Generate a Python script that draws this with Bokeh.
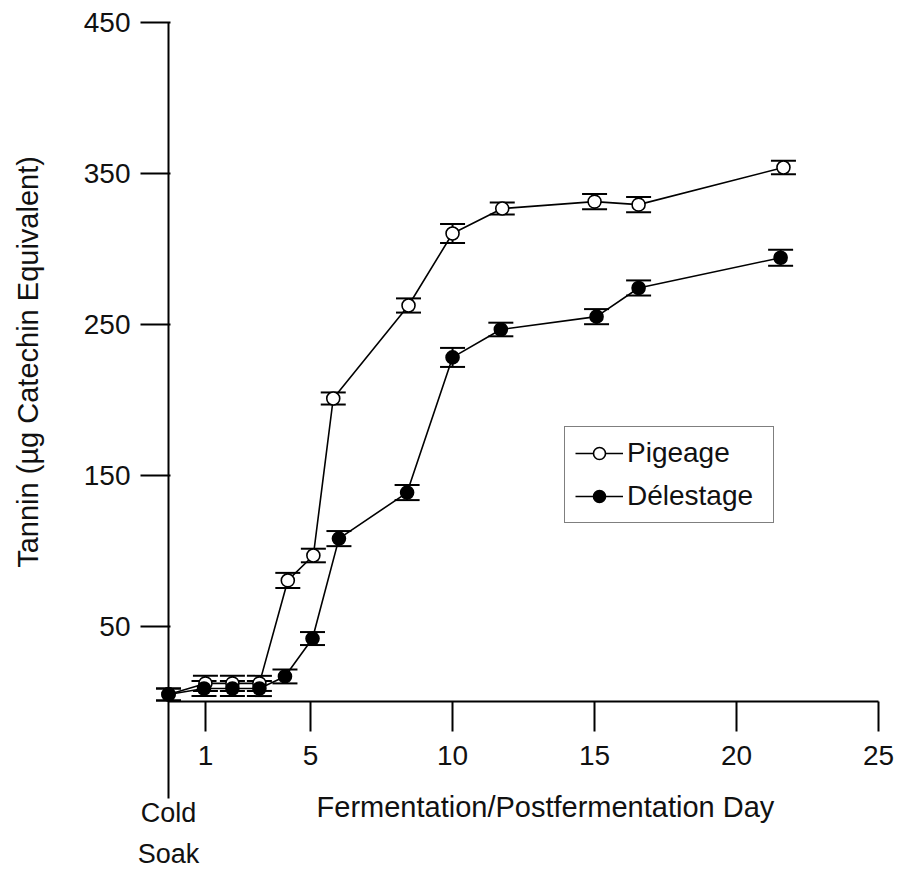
import math
from bokeh.plotting import figure
from bokeh.models import (ColumnDataSource, Whisker, TeeHead, FixedTicker, Label,
                          Legend, LegendItem)
from bokeh.embed import file_html
from bokeh.resources import INLINE

# ---- data ----
days_pigeage = [0, 1.3, 2.25, 3.2, 4.2, 5.1, 5.8, 8.45, 10.0, 11.75, 15.0, 16.55, 21.65]
tannin_pigeage = [4.8, 12.1, 12.1, 12.1, 80.3, 96.8, 200.8, 262.4, 310.1, 326.6, 331.2, 329.2, 353.8]
err_pigeage = [4, 5, 5, 5, 5, 4.5, 4, 4.7, 6.3, 4, 5, 5, 4.5]

days_delestage = [0, 1.25, 2.25, 3.2, 4.1, 5.07, 6.0, 8.4, 10.0, 11.7, 15.07, 16.55, 21.55]
tannin_delestage = [4.8, 8.7, 8.7, 8.7, 16.7, 41.8, 108.0, 138.5, 228.0, 246.5, 255.0, 274.0, 294.0]
err_delestage = [4, 5, 5, 5, 4.6, 4.3, 5, 5, 6.3, 4.5, 5, 5, 5.3]

x_tick_positions = [1.3, 5, 10, 15, 20, 25]
x_tick_labels = ["1", "5", "10", "15", "20", "25"]
y_ticks = [50, 150, 250, 350, 450]

series_names = ["Pigeage", "Délestage"]
x_title = "Fermentation/Postfermentation Day"
y_title = "Tannin (µg Catechin Equivalent)"
origin_label = ["Cold", "Soak"]

FONT = "Liberation Sans"
TXT = "#111111"


def make_source(x, y, e):
    return ColumnDataSource(dict(x=x, y=y,
                                 lower=[a - b for a, b in zip(y, e)],
                                 upper=[a + b for a, b in zip(y, e)]))


src_p = make_source(days_pigeage, tannin_pigeage, err_pigeage)
src_d = make_source(days_delestage, tannin_delestage, err_delestage)

p = figure(frame_width=896, frame_height=868,
           x_range=(-5.915, 25.63), y_range=(-110.5, 464.4),
           output_backend="svg", toolbar_location=None,
           min_border_left=0, min_border_top=0,
           min_border_right=0, min_border_bottom=0)
p.xgrid.visible = False
p.ygrid.visible = False
p.outline_line_color = None
p.background_fill_color = "white"
p.border_fill_color = "white"

# axes
xa = p.xaxis[0]
xa.fixed_location = 0
xa.bounds = (0, 25)
xa.ticker = FixedTicker(ticks=x_tick_positions)
xa.major_label_overrides = {t: l for t, l in zip(x_tick_positions, x_tick_labels)}
xa.major_tick_out = 30
xa.major_tick_in = 0
xa.minor_tick_out = 0
xa.minor_tick_in = 0
xa.axis_line_width = 2
xa.major_tick_line_width = 2
xa.axis_line_color = "black"
xa.major_tick_line_color = "black"
xa.major_label_text_font = FONT
xa.major_label_text_font_size = "28px"
xa.major_label_text_color = TXT
xa.major_label_standoff = 14

ya = p.yaxis[0]
ya.fixed_location = 0
ya.bounds = (-64, 450)
ya.ticker = FixedTicker(ticks=y_ticks)
ya.major_tick_out = 28
ya.major_tick_in = 2
ya.minor_tick_out = 0
ya.minor_tick_in = 0
ya.axis_line_width = 2
ya.major_tick_line_width = 2
ya.axis_line_color = "black"
ya.major_tick_line_color = "black"
ya.major_label_text_font = FONT
ya.major_label_text_font_size = "28px"
ya.major_label_text_color = TXT
ya.major_label_standoff = 10

# lines
lp = p.line("x", "y", source=src_p, line_color="black", line_width=1.6)
ld = p.line("x", "y", source=src_d, line_color="black", line_width=1.6)

# error bars
for src in (src_p, src_d):
    w = Whisker(source=src, base="x", lower="lower", upper="upper",
                line_color="black", line_width=2,
                upper_head=TeeHead(size=25, line_color="black", line_width=2),
                lower_head=TeeHead(size=25, line_color="black", line_width=2))
    p.add_layout(w)

# markers
sp = p.scatter("x", "y", source=src_p, size=13, marker="circle",
               fill_color="white", line_color="black", line_width=1.6)
sd = p.scatter("x", "y", source=src_d, size=13, marker="circle",
               fill_color="black", line_color="black", line_width=1.6)

# legend
legend = Legend(items=[LegendItem(label=series_names[0], renderers=[lp, sp]),
                       LegendItem(label=series_names[1], renderers=[ld, sd])],
                location=(564, 345), orientation="vertical",
                label_text_font=FONT, label_text_font_size="28px",
                label_text_color=TXT,
                glyph_width=48, glyph_height=30, label_height=30, label_width=136,
                label_standoff=4, spacing=11, padding=10, margin=0,
                border_line_color="black", border_line_width=1.5,
                background_fill_color="white", background_fill_alpha=1.0)
p.add_layout(legend)

# titles / labels
p.add_layout(Label(x=13.27, y=-69.5, text=x_title, text_font=FONT,
                   text_font_size="29px", text_align="center",
                   text_baseline="middle", text_color=TXT))
p.add_layout(Label(x=-4.93, y=225, text=y_title, text_font=FONT,
                   text_font_size="29px", text_align="center",
                   text_baseline="middle", angle=math.pi / 2,
                   text_color=TXT))
p.add_layout(Label(x=0, y=-73.5, text=origin_label[0], text_font=FONT,
                   text_font_size="27px", text_align="center",
                   text_baseline="middle", text_color=TXT))
p.add_layout(Label(x=0, y=-100.7, text=origin_label[1], text_font=FONT,
                   text_font_size="27px", text_align="center",
                   text_baseline="middle", text_color=TXT))

open("out.html", "w").write(file_html(p, INLINE))
